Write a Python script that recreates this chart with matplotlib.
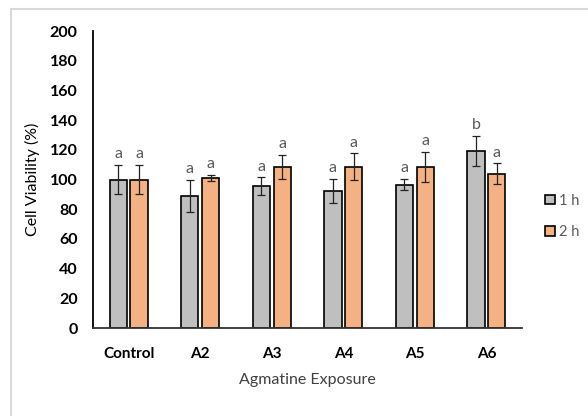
import numpy as np
import matplotlib.pyplot as plt
from matplotlib.patches import Rectangle, Patch

plt.rcParams['font.family'] = ['Lato', 'DejaVu Sans']

# data
groups = ["Control", "A2", "A3", "A4", "A5", "A6"]
h1_mean = [100, 89, 95.5, 92.5, 96.7, 119.5]
h1_err = [10, 11, 6, 8, 4, 10]
h2_mean = [100, 101, 108.7, 108.7, 108.7, 104]
h2_err = [10, 2, 8, 9, 10, 7]
h1_sig = ["a", "a", "a", "a", "a", "b"]
h2_sig = ["a", "a", "a", "a", "a", "a"]

c1 = '#bfbfbf'
c2 = '#f4b183'
txt_gray = '#595959'

fig = plt.figure(figsize=(5.88, 4.16), dpi=100)
ax = fig.add_axes([0.158, 0.2115, 0.73, 0.7135])

# light border round the chart area
fig.patches.append(Rectangle((11/588, -0.05), 1.0, (416-9)/416 + 0.05,
                             transform=fig.transFigure, fill=False,
                             edgecolor='#d9d9d9', lw=1.5))

x = np.arange(len(groups))
w = 0.24
off = 0.145

ax.bar(x - off, h1_mean, w, color=c1, edgecolor='black', lw=1.2, zorder=2)
ax.bar(x + off, h2_mean, w, color=c2, edgecolor='black', lw=1.2, zorder=2)
ax.errorbar(x - off, h1_mean, yerr=h1_err, fmt='none', ecolor='#222222',
            elinewidth=0.9, capsize=2.6, capthick=0.9, zorder=3)
ax.errorbar(x + off, h2_mean, yerr=h2_err, fmt='none', ecolor='#222222',
            elinewidth=0.9, capsize=2.6, capthick=0.9, zorder=3)

for i in range(len(groups)):
    ax.text(x[i] - off, h1_mean[i] + h1_err[i] + 2.5, h1_sig[i], ha='center',
            va='bottom', fontsize=11.5, color=txt_gray)
    ax.text(x[i] + off, h2_mean[i] + h2_err[i] + 2.5, h2_sig[i], ha='center',
            va='bottom', fontsize=11.5, color=txt_gray)

ax.set_xlim(-0.5, 5.5)
ax.set_ylim(0, 200)
ax.set_yticks(np.arange(0, 201, 20))
ax.set_xticks(x)
ax.set_xticklabels(groups, fontweight='bold', fontsize=11)
for lab in ax.get_yticklabels():
    lab.set_fontweight('bold')
    lab.set_fontsize(11.5)
ax.tick_params(axis='y', length=0, pad=11)
ax.tick_params(axis='x', length=0, pad=14)

ax.spines['top'].set_visible(False)
ax.spines['right'].set_visible(False)
ax.spines['left'].set_linewidth(1.3)
ax.spines['bottom'].set_linewidth(1.3)
ax.spines['bottom'].set_color('#333333')

ax.set_ylabel("Cell Viability (%)", fontsize=11.5, labelpad=7)
ax.set_xlabel("Agmatine Exposure", fontsize=11.5, color='#404040', labelpad=8)

handles = [Patch(facecolor=c1, edgecolor='black', lw=1.2),
           Patch(facecolor=c2, edgecolor='black', lw=1.2)]
leg = fig.legend(handles, ["1 h", "2 h"], loc='center left',
                 bbox_to_anchor=(0.91, 0.48), frameon=False, fontsize=10.5,
                 handlelength=0.65, handleheight=0.65, handletextpad=0.3,
                 labelspacing=1.2, borderpad=0.2)
for t in leg.get_texts():
    t.set_color(txt_gray)

fig.savefig("out.png", dpi=100)
